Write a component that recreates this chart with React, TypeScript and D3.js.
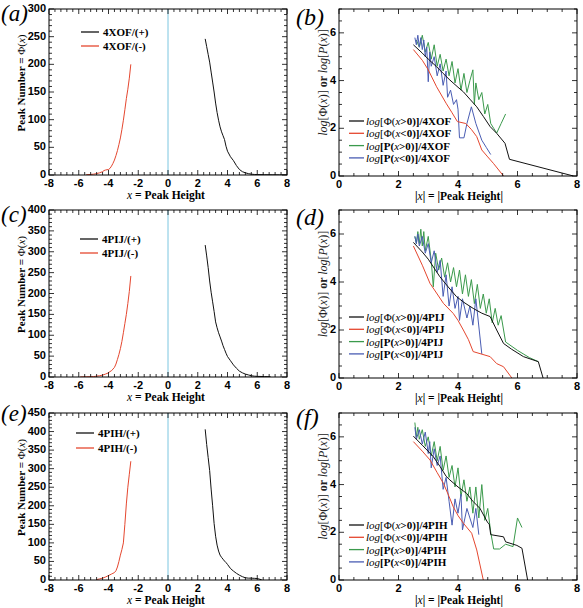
import React from 'react';
import * as d3 from 'd3';

type Pt = [number, number];

// ---------- tick labels ----------
const LEFT_X_TICKS = [-8, -6, -4, -2, 0, 2, 4, 6, 8];
const A_Y_TICKS = [0, 50, 100, 150, 200, 250, 300];
const C_Y_TICKS = [0, 50, 100, 150, 200, 250, 300, 350, 400];
const E_Y_TICKS = [0, 50, 100, 150, 200, 250, 300, 350, 400, 450];
const RIGHT_X_TICKS = [0, 2, 4, 6, 8];
const RIGHT_Y_TICKS = [0, 2, 4, 6];

// ---------- (a) 4XOF peak numbers ----------
const A_POS: Pt[] = [[2.5,246],[2.6,232],[2.7,218],[2.8,204],[2.9,186],[3.0,168],[3.1,150],[3.2,130],[3.3,113],[3.4,99],[3.5,87],[3.6,78],[3.7,71],[3.8,64],[3.9,52],[4.0,43],[4.2,33],[4.4,26],[4.6,17],[4.8,10],[5.0,6],[5.2,4],[5.4,2.5],[5.6,1.5],[5.8,1],[6.0,0.8],[6.5,0.5],[7.0,0.3],[7.5,0.2],[8.0,0.1]];
const A_NEG: Pt[] = [[-2.5,200],[-2.6,175],[-2.7,155],[-2.8,138],[-2.9,118],[-3.0,99],[-3.1,82],[-3.2,67],[-3.3,55],[-3.4,44],[-3.5,35],[-3.6,27],[-3.7,21],[-3.8,16],[-3.9,12],[-4.0,10],[-4.1,9.5],[-4.2,9],[-4.3,8],[-4.4,6],[-4.6,4],[-4.8,2.5],[-5.0,1.5],[-5.2,1],[-5.5,0.5]];

// ---------- (c) 4PIJ peak numbers ----------
const C_POS: Pt[] = [[2.5,316],[2.6,290],[2.7,262],[2.8,230],[2.9,203],[3.0,180],[3.1,157],[3.2,132],[3.3,118],[3.4,106],[3.5,96],[3.6,86],[3.7,75],[3.8,66],[3.9,57],[4.0,49],[4.2,39],[4.4,29],[4.6,21],[4.8,14],[5.0,10],[5.2,7],[5.4,5],[5.6,3],[5.8,2],[6.0,1.5],[6.5,1],[6.9,0.5]];
const C_NEG: Pt[] = [[-2.5,242],[-2.6,205],[-2.7,176],[-2.8,150],[-2.9,128],[-3.0,106],[-3.1,85],[-3.2,68],[-3.3,54],[-3.4,42],[-3.5,31],[-3.6,23],[-3.7,19],[-3.8,15],[-3.9,13],[-4.0,10],[-4.2,7],[-4.4,4.5],[-4.6,3],[-5.0,1],[-5.5,0.5],[-5.9,0.3]];

// ---------- (e) 4PIH peak numbers ----------
const E_POS: Pt[] = [[2.5,406],[2.6,365],[2.7,330],[2.8,295],[2.9,245],[3.0,200],[3.1,152],[3.2,118],[3.3,94],[3.4,78],[3.5,67],[3.6,61],[3.7,56],[3.8,51],[3.9,47],[4.0,42],[4.2,31],[4.4,24],[4.6,18],[4.8,13],[5.0,9],[5.2,6],[5.4,5],[5.6,5],[5.8,4.5],[6.0,4],[6.3,0.5]];
const E_NEG: Pt[] = [[-2.5,320],[-2.6,285],[-2.7,250],[-2.8,205],[-2.9,150],[-3.0,100],[-3.1,82],[-3.2,67],[-3.3,50],[-3.4,35],[-3.5,25],[-3.6,20],[-3.7,18],[-3.8,16],[-3.9,14],[-4.0,12],[-4.2,8],[-4.4,5],[-4.6,3],[-4.8,1]];

// ---------- (b) 4XOF logs ----------
const B_PHI_POS: Pt[] = [[2.5,5.5],[2.8,5.15],[3.0,4.9],[3.28,4.58],[3.5,4.3],[3.73,4.02],[4.0,3.72],[4.18,3.53],[4.4,3.22],[4.63,2.9],[4.85,2.5],[5.08,2.07],[5.3,1.79],[5.58,1.37],[5.73,0.7],[7.88,0]];
const B_PHI_NEG: Pt[] = [[2.5,5.3],[2.8,4.85],[3.0,4.45],[3.28,3.74],[3.6,3.05],[3.8,2.65],[3.98,2.28],[4.26,2.2],[4.45,1.95],[4.63,1.65],[4.8,1.09],[5.0,0.8],[5.19,0.53],[5.53,0]];
const B_P_POS: Pt[] = [[2.6,5.7],[2.7,5.4],[2.8,5.9],[2.9,5.2],[3.0,5.6],[3.1,4.9],[3.2,5.5],[3.3,4.6],[3.4,5.1],[3.5,4.4],[3.6,4.9],[3.7,4.2],[3.8,4.8],[3.9,3.9],[4.0,4.5],[4.1,3.6],[4.2,4.3],[4.3,3.5],[4.4,4.0],[4.5,4.45],[4.55,3.0],[4.6,3.9],[4.7,3.2],[4.8,3.5],[4.9,2.6],[5.0,3.0],[5.1,2.2],[5.2,2.0],[5.3,1.8],[5.45,2.2],[5.6,2.6]];
const B_P_NEG: Pt[] = [[2.55,5.8],[2.6,5.5],[2.65,5.9],[2.7,5.4],[2.75,5.8],[2.8,5.3],[2.85,5.7],[2.9,5.0],[2.95,5.4],[3.0,3.95],[3.05,5.2],[3.1,4.6],[3.2,5.0],[3.3,4.2],[3.4,4.7],[3.5,3.8],[3.6,4.4],[3.65,3.3],[3.75,3.6],[3.85,3.0],[3.95,3.2],[4.0,2.8],[4.05,1.6],[4.2,1.6],[4.3,2.2],[4.45,2.9],[4.6,2.2],[4.8,1.5],[4.95,1.2],[5.1,0.9]];

// ---------- (d) 4PIJ logs ----------
const D_PHI_POS: Pt[] = [[2.5,5.65],[2.8,5.25],[3.0,4.95],[3.39,4.22],[3.7,3.75],[3.95,3.39],[4.2,3.15],[4.51,2.9],[4.8,2.7],[5.08,2.56],[5.3,2.0],[5.53,1.44],[5.8,1.2],[6.2,0.89],[6.7,0.68],[6.86,0]];
const D_PHI_NEG: Pt[] = [[2.5,5.5],[2.8,4.7],[3.06,3.94],[3.3,3.5],[3.51,3.11],[3.84,2.69],[4.0,2.4],[4.18,2.0],[4.35,1.6],[4.51,1.1],[5.08,0.89],[5.3,0.6],[5.53,0.47],[5.81,0]];
const D_P_POS: Pt[] = [[2.55,5.9],[2.6,5.6],[2.65,6.1],[2.7,5.6],[2.75,6.2],[2.8,5.5],[2.85,6.1],[2.9,5.3],[3.0,5.9],[3.1,4.9],[3.17,3.8],[3.25,5.2],[3.35,4.5],[3.45,5.0],[3.55,4.2],[3.65,4.8],[3.75,4.0],[3.85,4.6],[3.95,3.8],[4.05,4.5],[4.15,3.5],[4.25,4.3],[4.35,3.4],[4.45,4.1],[4.55,3.1],[4.65,3.9],[4.75,2.9],[4.85,3.5],[4.95,2.7],[5.05,3.3],[5.15,2.3],[5.25,2.9],[5.35,2.2],[5.45,2.6],[5.6,1.5],[6.0,1.15],[6.4,0.85],[6.7,0.68]];
const D_P_NEG: Pt[] = [[2.55,5.9],[2.6,5.6],[2.65,6.0],[2.7,5.5],[2.8,5.9],[2.9,5.2],[3.0,5.6],[3.1,4.8],[3.2,5.3],[3.3,4.4],[3.4,4.9],[3.5,3.4],[3.6,4.3],[3.7,3.0],[3.8,3.8],[3.9,2.9],[4.0,3.4],[4.05,2.4],[4.15,3.3],[4.3,2.5],[4.4,3.0],[4.5,2.2],[4.6,3.3],[4.8,1.0]];

// ---------- (f) 4PIH logs ----------
const F_PHI_POS: Pt[] = [[2.5,6.03],[2.8,5.65],[3.17,5.17],[3.4,4.75],[3.6,4.35],[3.73,4.19],[4.0,3.9],[4.29,3.63],[4.5,3.3],[4.74,3.0],[5.0,2.4],[5.05,2.35],[5.1,1.9],[5.53,1.81],[5.6,1.6],[5.98,1.45],[6.15,1.33],[6.34,0]];
const F_PHI_NEG: Pt[] = [[2.5,5.8],[2.8,5.4],[3.06,5.03],[3.3,4.5],[3.51,4.05],[3.7,3.5],[3.84,3.07],[4.0,2.7],[4.18,2.38],[4.46,1.96],[4.63,1.26],[4.85,0]];
const F_P_POS: Pt[] = [[2.55,6.6],[2.6,6.0],[2.65,6.4],[2.7,5.9],[2.8,6.3],[2.9,5.6],[3.0,6.0],[3.1,5.2],[3.2,5.8],[3.3,5.0],[3.4,5.6],[3.5,4.6],[3.6,5.2],[3.7,4.3],[3.8,4.8],[3.9,3.9],[4.0,4.7],[4.1,3.5],[4.2,4.2],[4.3,3.3],[4.4,3.9],[4.5,2.8],[4.6,3.9],[4.7,2.6],[4.8,4.0],[4.9,2.5],[5.0,3.0],[5.1,2.0],[5.2,1.3],[5.4,1.3],[5.6,1.5],[5.85,1.4],[6.0,2.6],[6.15,2.2]];
const F_P_NEG: Pt[] = [[2.55,6.4],[2.6,5.9],[2.7,6.3],[2.8,5.7],[2.9,6.2],[3.0,5.3],[3.05,5.8],[3.1,4.7],[3.2,5.5],[3.3,4.8],[3.4,5.2],[3.5,3.8],[3.6,4.3],[3.7,3.3],[3.8,2.3],[3.9,3.4],[4.0,2.8],[4.1,3.6],[4.15,2.1],[4.3,3.0],[4.4,2.6],[4.5,2.2],[4.6,3.0],[4.7,1.9]];

const BLACK = '#111111';
const RED = '#e5472f';
const GREEN = '#3b9a4c';
const BLUE = '#4a5db3';
const CYAN = '#7cc6e0';
const SANS = '"Liberation Sans", Arial, sans-serif';
const SERIF = '"Liberation Serif", "Times New Roman", serif';

interface Box { x0: number; x1: number; y0: number; y1: number; }

function Clip({ box, id }: { box: Box; id: string }) {
  return (
    <defs>
      <clipPath id={id}>
        <rect x={box.x0} y={box.y0} width={box.x1 - box.x0} height={box.y1 - box.y0} />
      </clipPath>
    </defs>
  );
}

function Ticks(props: any) {
  const { box, xs, ys, xMaj, yMaj, xVals, yVals } = props;
  const segs: string[] = [];
  xVals.forEach((v: number) => {
    const x = xs(v);
    const L = xMaj(v) ? 5 : 3;
    segs.push(`M${x},${box.y1}V${box.y1 - L}`);
    segs.push(`M${x},${box.y0}V${box.y0 + L}`);
  });
  yVals.forEach((v: number) => {
    const y = ys(v);
    const L = yMaj(v) ? 5 : 3;
    segs.push(`M${box.x0},${y}H${box.x0 + L}`);
    segs.push(`M${box.x1},${y}H${box.x1 - L}`);
  });
  return <path d={segs.join('')} stroke="#000" strokeWidth={0.8} fill="none" />;
}

const near = (v: number, step: number) => Math.abs(v / step - Math.round(v / step)) < 1e-6;

function LeftPanel({ box, yMax, yTicks, pos, neg, name, legendY, legendX, label, labelY }: any) {
  const xs = d3.scaleLinear().domain([-8, 8]).range([box.x0, box.x1]);
  const ys = d3.scaleLinear().domain([0, yMax]).range([box.y1, box.y0]);
  const line = d3.line<Pt>().x(d => xs(d[0])).y(d => ys(d[1]));
  const clip = `clip-${name}`;
  const xVals = d3.range(-8, 8.0001, 0.4).map(v => Math.round(v * 10) / 10);
  const yVals = d3.range(0, yMax + 0.001, 10);
  const cy = (box.y0 + box.y1) / 2 - 9;
  return (
    <g>
      <Clip box={box} id={clip} />
      <line x1={xs(0)} x2={xs(0)} y1={box.y0} y2={box.y1} stroke={CYAN} strokeWidth={1} />
      <g clipPath={`url(#${clip})`}>
        <path d={line(pos) || ''} fill="none" stroke={BLACK} strokeWidth={1} />
        <path d={line(neg) || ''} fill="none" stroke={RED} strokeWidth={1} />
      </g>
      <rect x={box.x0} y={box.y0} width={box.x1 - box.x0} height={box.y1 - box.y0} fill="none" stroke="#000" strokeWidth={1} />
      <Ticks box={box} xs={xs} ys={ys} xVals={xVals} yVals={yVals} xMaj={(v: number) => near(v, 2)} yMaj={(v: number) => near(v, 50)} />
      {LEFT_X_TICKS.map(v => (
        <text key={v} x={xs(v)} y={box.y1 + 11.5} textAnchor="middle" fontFamily={SANS} fontWeight="bold" fontSize={11}>{v}</text>
      ))}
      {yTicks.map((v: number) => (
        <text key={v} x={box.x0 - 3} y={ys(v) + 3} textAnchor="end" fontFamily={SANS} fontWeight="bold" fontSize={11}>{v}</text>
      ))}
      <text x={166} y={box.y1 + 24} textAnchor="middle" fontFamily={SERIF} fontWeight="bold" fontSize={11.5}>
        <tspan fontStyle="italic" fontWeight="normal">x</tspan> = Peak Height
      </text>
      <text transform={`translate(25,${cy}) rotate(-90)`} textAnchor="middle" fontFamily={SERIF} fontWeight="bold" fontSize={11}>
        Peak Number = <tspan fontWeight="normal">Φ(</tspan><tspan fontStyle="italic" fontWeight="normal">x</tspan><tspan fontWeight="normal">)</tspan>
      </text>
      {[{ c: BLACK, t: `${name}/(+)` }, { c: RED, t: `${name}/(-)` }].map((it, i) => (
        <g key={i}>
          <line x1={legendX} x2={legendX + 18} y1={box.y0 + legendY[i]} y2={box.y0 + legendY[i]} stroke={it.c} strokeWidth={1.3} />
          <text x={legendX + 22} y={box.y0 + legendY[i] + 4} fontFamily={SERIF} fontWeight="bold" fontSize={11}>{it.t}</text>
        </g>
      ))}
      <text x={1} y={labelY} fontFamily={SERIF} fontStyle="italic" fontSize={23}>({label})</text>
    </g>
  );
}

function RightPanel({ box, series, name, legendTop, label, labelY }: any) {
  const xs = d3.scaleLinear().domain([0, 8]).range([box.x0, box.x1]);
  const ys = d3.scaleLinear().domain([0, 7]).range([box.y1, box.y0]);
  const line = d3.line<Pt>().x(d => xs(d[0])).y(d => ys(d[1]));
  const clip = `clip-r-${name}`;
  const xVals = d3.range(0, 8.0001, 0.5);
  const yVals = d3.range(0, 7.0001, 0.5);
  const cy = (box.y0 + box.y1) / 2 - 10;
  const colors = [BLACK, RED, GREEN, BLUE];
  const order = [2, 3, 0, 1];
  const legend = [
    { sym: 'Φ', sign: '>', bold: false },
    { sym: 'Φ', sign: '<', bold: false },
    { sym: 'P', sign: '>', bold: true },
    { sym: 'P', sign: '<', bold: true },
  ];
  return (
    <g>
      <Clip box={box} id={clip} />
      <g clipPath={`url(#${clip})`}>
        {order.map(i => (
          <path key={i} d={line(series[i]) || ''} fill="none" stroke={colors[i]} strokeWidth={1} />
        ))}
      </g>
      <rect x={box.x0} y={box.y0} width={box.x1 - box.x0} height={box.y1 - box.y0} fill="none" stroke="#000" strokeWidth={1} />
      <Ticks box={box} xs={xs} ys={ys} xVals={xVals} yVals={yVals} xMaj={(v: number) => near(v, 2)} yMaj={(v: number) => near(v, 2)} />
      {RIGHT_X_TICKS.map(v => (
        <text key={v} x={xs(v)} y={box.y1 + 11.5} textAnchor="middle" fontFamily={SANS} fontWeight="bold" fontSize={11}>{v}</text>
      ))}
      {RIGHT_Y_TICKS.map(v => (
        <text key={v} x={box.x0 - 3} y={ys(v) + 3} textAnchor="end" fontFamily={SANS} fontWeight="bold" fontSize={11}>{v}</text>
      ))}
      <text x={459} y={box.y1 + 24} textAnchor="middle" fontFamily={SERIF} fontWeight="bold" fontSize={11.5}>
        |<tspan fontStyle="italic" fontWeight="normal">x</tspan>| = |Peak Height|
      </text>
      <text transform={`translate(327,${cy}) rotate(-90)`} textAnchor="middle" fontFamily={SERIF} fontSize={12} fill="#222">
        <tspan fontStyle="italic">log</tspan>[Φ(<tspan fontStyle="italic">x</tspan>)]<tspan fontWeight="bold"> or </tspan><tspan fontStyle="italic">log</tspan>[<tspan fontStyle="italic">P</tspan>(<tspan fontStyle="italic">x</tspan>)]
      </text>
      {legend.map((it, i) => {
        const y = box.y0 + legendTop + i * 12.3;
        return (
          <g key={i}>
            <line x1={349} x2={364} y1={y} y2={y} stroke={colors[i]} strokeWidth={1.3} />
            <text x={366} y={y + 4} fontFamily={SERIF} fontSize={11}>
              <tspan fontStyle="italic">log</tspan>
              <tspan fontWeight={it.bold ? 'bold' : 'normal'}>[{it.sym}(</tspan>
              <tspan fontStyle="italic">x</tspan>
              <tspan fontWeight="bold">{it.sign}0)]/{name}</tspan>
            </text>
          </g>
        );
      })}
      <text x={296} y={labelY} fontFamily={SERIF} fontStyle="italic" fontSize={24}>({label})</text>
    </g>
  );
}

export default function App() {
  const L = (y0: number, y1: number): Box => ({ x0: 49, x1: 287, y0, y1 });
  const R = (y0: number, y1: number): Box => ({ x0: 339, x1: 577, y0, y1 });
  return (
    <svg width={583} height={608} viewBox="0 0 583 608" style={{ position: 'absolute', left: 0, top: 0, background: '#fff' }}>
      <rect width={583} height={608} fill="#fff" />
      <LeftPanel box={L(9, 175)} yMax={300} yTicks={A_Y_TICKS} pos={A_POS} neg={A_NEG} name="4XOF" legendY={[23, 37]} legendX={81} label="a" labelY={21} />
      <LeftPanel box={L(210, 377)} yMax={400} yTicks={C_Y_TICKS} pos={C_POS} neg={C_NEG} name="4PIJ" legendY={[29, 43]} legendX={80} label="c" labelY={222} />
      <LeftPanel box={L(413, 580)} yMax={450} yTicks={E_Y_TICKS} pos={E_POS} neg={E_NEG} name="4PIH" legendY={[20, 35]} legendX={76} label="e" labelY={421} />
      <RightPanel box={R(9, 176)} series={[B_PHI_POS, B_PHI_NEG, B_P_POS, B_P_NEG]} name="4XOF" legendTop={112} label="b" labelY={25} />
      <RightPanel box={R(210, 378)} series={[D_PHI_POS, D_PHI_NEG, D_P_POS, D_P_NEG]} name="4PIJ" legendTop={107} label="d" labelY={225} />
      <RightPanel box={R(413, 580)} series={[F_PHI_POS, F_PHI_NEG, F_P_POS, F_P_NEG]} name="4PIH" legendTop={112} label="f" labelY={425} />
    </svg>
  );
}
